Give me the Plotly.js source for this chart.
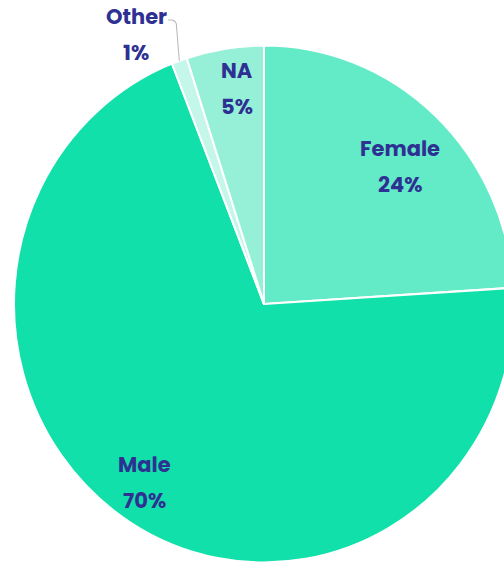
<!DOCTYPE html>
<html>
<head>
<meta charset="utf-8">
<script src="https://cdn.plot.ly/plotly-3.0.1.min.js"></script>
<style>
html, body { margin: 0; padding: 0; overflow: hidden; background: #fff; width: 504px; height: 563px; }
#chart { width: 528px; height: 563px; transform: scaleY(1.034); transform-origin: 0 304px; }
</style>
</head>
<body>
<div id="chart"></div>
<script>
const labels = ["Female", "Male", "Other", "NA"];
const values = [24, 70, 1, 5];
const colors = ["#63EBC8", "#12E0AA", "#C4F7E9", "#95F0D7"];

const W = 528, H = 563;
const mL = 14, mR = 14, mT = 54, mB = 9;
const SY = 1.034;
const pw = W - mL - mR, ph = H - mT - mB;
const cx = mL + pw / 2, cy = mT + ph / 2, R = Math.min(pw, ph) / 2;
// convert final screen pixels to paper coords (undoing the vertical stretch)
const px = x => (x - mL) / pw;
const py = y => 1 - ((cy + (y - cy) / SY) - mT) / ph;

const textColor = "#2E3192";
const fontFam = "Poppins, 'Open Sans', sans-serif";
const total = values.reduce((a, b) => a + b, 0);

// label placement: radial fraction and a small angular nudge (degrees); null = outside label
const labelRadius = [0.76, 0.837, null, 0.843];
const labelNudge = [2.3, 2.3, 0, 1.6];

const annotations = [];
const shapes = [];
let cum = 0;
values.forEach((v, i) => {
  const mid = (cum + v / 2) / total * 2 * Math.PI + labelNudge[i] * Math.PI / 180;
  cum += v;
  const pct = Math.round(v / total * 100) + "%";
  let x, y;
  if (labelRadius[i] !== null) {
    x = cx + Math.sin(mid) * R * labelRadius[i];
    y = cy - Math.cos(mid) * R * labelRadius[i] * SY;
  } else {
    const ex = cx + Math.sin(mid) * R;
    const ey = cy - Math.cos(mid) * R * SY;
    x = ex - 43; y = 34;
    shapes.push({
      type: "path", xref: "paper", yref: "paper",
      path: `M ${px(ex)} ${py(ey)} L ${px(x + 40)} ${py(y - 10)} Q ${px(x + 39)} ${py(y - 14)} ${px(x + 35)} ${py(y - 14)} L ${px(x + 32)} ${py(y - 14)}`,
      line: { color: "#B5B5B5", width: 1 }
    });
  }
  annotations.push({
    xref: "paper", yref: "paper", x: px(x), y: py(y), yshift: 17.5,
    xanchor: "center", yanchor: "middle",
    text: "<b>" + labels[i] + "</b>", showarrow: false,
    font: { family: fontFam, size: 21, color: textColor }
  });
  annotations.push({
    xref: "paper", yref: "paper", x: px(x), y: py(y), yshift: -17.5,
    xanchor: "center", yanchor: "middle",
    text: "<b>" + pct + "</b>", showarrow: false,
    font: { family: fontFam, size: 21, color: textColor }
  });
});

const data = [{
  type: "pie",
  labels: labels,
  values: values,
  sort: false,
  direction: "clockwise",
  rotation: 0,
  textinfo: "none",
  hoverinfo: "label+percent",
  marker: { colors: colors, line: { color: "#ffffff", width: 2 } },
  domain: { x: [0, 1], y: [0, 1] }
}];

const layout = {
  width: W, height: H,
  margin: { l: mL, r: mR, t: mT, b: mB },
  showlegend: false,
  paper_bgcolor: "#ffffff",
  annotations: annotations,
  shapes: shapes
};

Plotly.newPlot("chart", data, layout, { displayModeBar: false, staticPlot: true });
</script>
</body>
</html>
